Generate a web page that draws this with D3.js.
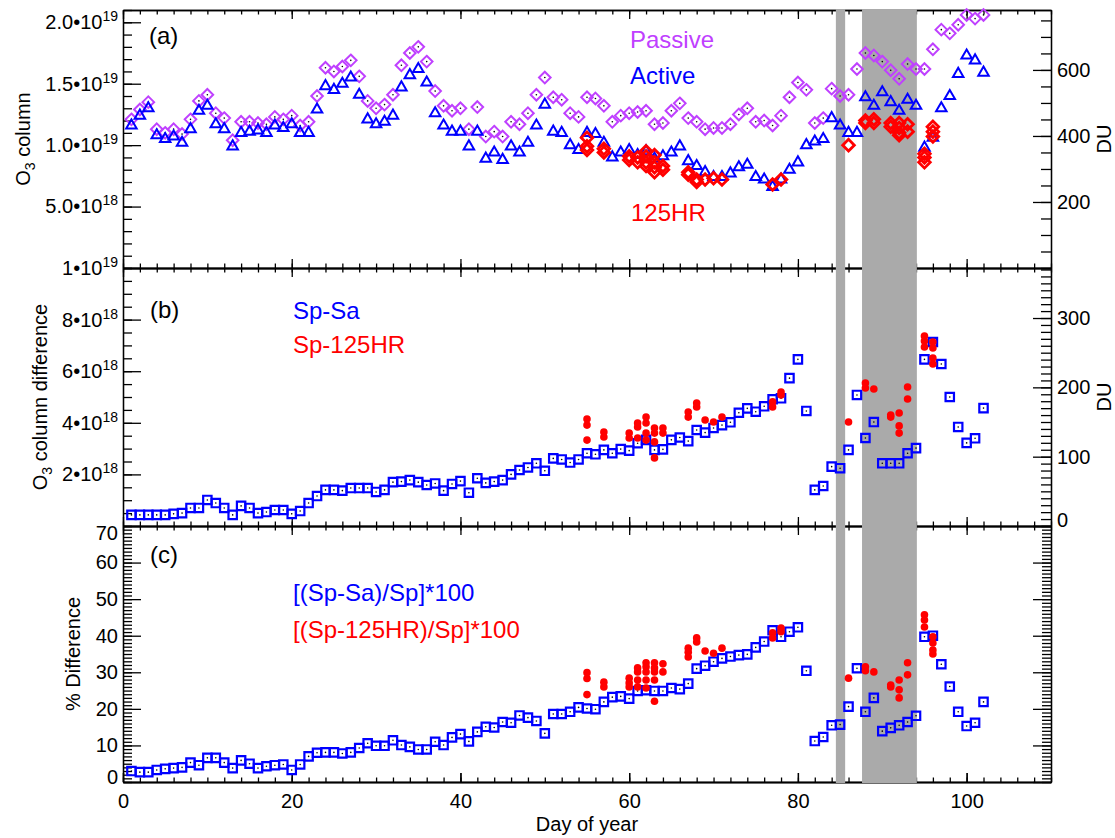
<!DOCTYPE html>
<html>
<head>
<meta charset="utf-8">
<script src="https://cdn.jsdelivr.net/npm/d3@7"></script>
<style>
  body { margin: 0; background: #fff; }
  text { font-family: "Liberation Sans", Arial, sans-serif; }
</style>
</head>
<body>
<svg id="chart" width="1115" height="838"></svg>
<script>
// ---- data ----
const firstDay = 1; // daily series start at day 1

// panel (a): O3 column, units of 1e19 molecules/cm2
const passive = [1.21, 1.29, 1.35, 1.13, 1.10, 1.13, 1.09, 1.21, 1.36, 1.41,
  1.26, 1.22, 1.04, 1.19, 1.19, 1.18, 1.17, 1.23, 1.21, 1.24,
  1.16, 1.19, 1.40, 1.63, 1.60, 1.64, 1.69, 1.56, 1.36, 1.30,
  1.33, 1.41, 1.65, 1.75, 1.80, 1.68, 1.44, 1.32, 1.28, 1.30,
  1.13, 1.31, 1.07, 1.11, 1.07, 1.19, 1.17, 1.26, 1.41, 1.55,
  1.39, 1.37, 1.26, 1.23, 1.39, 1.38, 1.32, 1.19, 1.24, 1.26,
  1.27, 1.28, 1.17, 1.18, 1.28, 1.34, 1.22, 1.19, 1.13, 1.14,
  1.14, 1.17, 1.25, 1.30, 1.19, 1.20, 1.16, 1.24, 1.39, 1.51,
  1.45, 1.18, 1.22, 1.46, 1.40, 1.41, 1.62, 1.75, 1.73, 1.68,
  1.61, 1.54, 1.66, 1.62, 1.62, 1.78, 1.94, 1.91, 1.98, 2.06,
  2.03, 2.06];
const active = [1.16, 1.24, 1.30, 1.08, 1.05, 1.07, 1.02, 1.13, 1.28, 1.32,
  1.17, 1.13, 0.99, 1.10, 1.11, 1.12, 1.10, 1.16, 1.14, 1.17,
  1.10, 1.10, 1.29, 1.48, 1.45, 1.50, 1.55, 1.41, 1.21, 1.17,
  1.19, 1.24, 1.47, 1.57, 1.62, 1.51, 1.26, 1.16, 1.11, 1.11,
  0.99, 1.11, 0.89, 0.94, 0.88, 0.99, 0.94, 1.02, 1.16, 1.33,
  1.11, 1.10, 1.00, 0.96, 1.10, 1.09, 1.02, 0.90, 0.94, 0.96,
  0.92, 0.95, 0.89, 0.91, 0.94, 0.99, 0.87, 0.83, 0.78, 0.74,
  0.74, 0.77, 0.82, 0.84, 0.74, 0.72, 0.66, 0.72, 0.80, 0.86,
  1.00, 1.03, 1.05, 1.22, 1.16, 1.10, 1.10, 1.39, 1.32, 1.43,
  1.35, 1.28, 1.37, 1.32, 0.98, 1.06, 1.30, 1.40, 1.58, 1.73,
  1.69, 1.59];
const hrDaysA = [55, 55, 55, 57, 57, 60, 60, 61, 61, 62, 62, 62, 62, 63, 63, 63, 63, 64, 64,
  67, 67, 68, 68, 69, 70, 71, 77, 78, 86, 88, 88, 89, 89, 91, 91, 92, 92, 92, 92, 93, 93,
  95, 95, 95, 96, 96, 96];
const hrValuesA = [1.06, 0.99, 0.96, 0.97, 0.94, 0.91, 0.88, 0.90, 0.86, 0.95, 0.91, 0.86, 0.83,
  0.92, 0.86, 0.82, 0.78, 0.83, 0.80, 0.78, 0.76, 0.72, 0.70, 0.72, 0.73, 0.72, 0.68, 0.72,
  1.00, 1.20, 1.18, 1.21, 1.18, 1.18, 1.15, 1.18, 1.14, 1.10, 1.08, 1.17, 1.11,
  0.93, 0.90, 0.86, 1.15, 1.11, 1.07];

// panel (b): O3 column difference, units of 1e18 molecules/cm2
const spSa = [0.43, 0.43, 0.43, 0.43, 0.43, 0.47, 0.50, 0.70, 0.70, 1.01,
  0.89, 0.70, 0.43, 0.78, 0.70, 0.50, 0.54, 0.62, 0.62, 0.47,
  0.58, 0.89, 1.16, 1.40, 1.40, 1.37, 1.47, 1.47, 1.47, 1.32,
  1.40, 1.70, 1.72, 1.78, 1.70, 1.59, 1.65, 1.37, 1.63, 1.74,
  1.29, 1.85, 1.67, 1.72, 1.78, 2.00, 2.17, 2.27, 2.43, 2.14,
  2.62, 2.58, 2.46, 2.58, 2.82, 2.78, 2.95, 2.82, 2.98, 2.92,
  3.21, 3.34, 2.95, 2.97, 3.34, 3.43, 3.29, 3.72, 3.62, 3.80,
  3.91, 4.02, 4.39, 4.56, 4.43, 4.64, 4.91, 4.95, 5.73, 6.46,
  4.46, 1.40, 1.55, 2.30, 2.24, 2.95, 5.08, 3.41, 4.03, 2.43,
  2.43, 2.43, 2.82, 3.02, 6.46, 7.13, 6.28, 5.00, 3.84, 3.22,
  3.40, 4.57];
const hrDaysB = [55, 55, 55, 57, 57, 60, 60, 61, 61, 61, 62, 62, 62, 62, 63, 63, 63, 63, 64, 64,
  67, 67, 68, 68, 69, 70, 71, 77, 77, 78, 78, 86, 88, 88, 89, 91, 91, 92, 92, 92, 93, 93,
  95, 95, 95, 96, 96, 96, 96];
const spHrB = [4.15, 3.91, 3.33, 3.64, 3.45, 3.60, 3.41, 3.99, 3.84, 3.41, 4.22, 3.99, 3.60, 3.33,
  3.80, 3.60, 3.26, 2.64, 3.80, 3.60, 4.42, 4.22, 4.77, 4.61, 4.11, 4.03, 4.22, 4.81, 4.61,
  5.19, 5.08, 4.03, 5.54, 5.35, 5.31, 4.30, 4.22, 4.38, 3.88, 3.60, 5.39, 4.92,
  7.36, 7.17, 6.94, 7.13, 6.90, 6.51, 6.28];

// panel (c): % difference
const pctSa = [3.0, 2.7, 2.7, 3.3, 3.6, 3.8, 4.0, 5.3, 4.6, 6.6,
  6.6, 5.3, 3.8, 5.9, 5.0, 3.8, 4.3, 4.6, 4.8, 3.3,
  4.8, 7.0, 8.0, 8.1, 8.1, 7.8, 8.1, 9.3, 10.6, 9.9,
  9.9, 11.4, 10.1, 9.6, 8.9, 8.9, 11.0, 10.1, 12.2, 13.1,
  11.1, 13.7, 15.1, 14.9, 16.4, 16.2, 18.2, 17.6, 16.7, 13.3,
  18.6, 18.6, 19.2, 20.4, 20.1, 19.9, 21.9, 23.2, 23.4, 22.8,
  24.9, 25.1, 24.9, 24.9, 25.7, 25.4, 26.9, 31.0, 31.8, 32.9,
  33.8, 34.3, 34.7, 34.9, 36.8, 38.4, 41.5, 39.7, 41.1, 42.3,
  30.4, 11.2, 12.3, 15.5, 15.7, 20.6, 31.1, 19.2, 23.0, 13.9,
  14.8, 15.5, 16.4, 18.1, 39.7, 40.0, 32.2, 26.1, 19.2, 15.3,
  16.2, 21.9];
const hrDaysC = [55, 55, 55, 57, 57, 60, 60, 60, 61, 61, 61, 61, 62, 62, 62, 62, 62,
  63, 63, 63, 63, 63, 64, 64, 67, 67, 67, 68, 68, 69, 70, 71, 77, 77, 78, 78, 86,
  88, 88, 89, 91, 91, 92, 92, 92, 93, 93, 95, 95, 95, 96, 96, 96, 96];
const pctHr = [29.9, 28.3, 23.9, 27.3, 26.0, 28.4, 27.1, 26.0, 31.2, 30.1, 27.9, 26.0,
  32.6, 31.5, 30.1, 27.9, 25.7, 32.6, 31.2, 30.1, 27.9, 22.1, 32.3, 30.1,
  36.6, 35.5, 34.2, 39.4, 38.3, 35.8, 35.2, 36.6, 40.8, 39.4, 42.1, 41.1, 28.4,
  31.5, 30.4, 30.1, 26.5, 26.0, 27.9, 25.2, 23.0, 32.6, 29.3,
  45.7, 44.3, 42.4, 39.7, 38.0, 36.1, 35.0];

// grey bands (days)
const shadeStart = [84.5, 87.6];
const shadeEnd = [85.6, 94.1];

// tick labels
const dayTicks = [0, 20, 40, 60, 80, 100];
const aTickVals = [0.5e19, 1.0e19, 1.5e19, 2.0e19];
const aTickMant = ["5.0", "1.0", "1.5", "2.0"];
const aTickExp = ["18", "19", "19", "19"];
const bTickVals = [2e18, 4e18, 6e18, 8e18, 1e19];
const bTickMant = ["2", "4", "6", "8", "1"];
const bTickExp = ["18", "18", "18", "18", "19"];
const cTickVals = [0, 10, 20, 30, 40, 50, 60, 70];
const duTicksA = [200, 400, 600];
const duTicksB = [0, 100, 200, 300];

// ---- setup ----
const DU = 2.687e16;
const purple = "#bf40ff";
const blue = "#0000ff";
const red = "#ff0000";
const font = '"Liberation Sans", Arial, sans-serif';

const svg = d3.select("#chart");
const left = 123, right = 1051;
const x = d3.scaleLinear().domain([0, 110]).range([left, right]);

const yA = d3.scaleLinear().domain([0, 2.1e19]).range([268, 10]);
const yAdu = d3.scaleLinear().domain([0, 2.1e19 / DU]).range([268, 10]);
const yB = d3.scaleLinear().domain([0, 1e19]).range([526, 268]);
const yBdu = d3.scaleLinear().domain([0, 1e19 / DU]).range([526, 268]);
const yC = d3.scaleLinear().domain([0, 70]).range([782, 526]);

const dayMinor = d3.range(0, 111, 2);

function styleAxis(g) {
  g.attr("font-family", font).attr("font-size", 20);
  g.selectAll("path, line").attr("stroke", "#000").attr("stroke-width", 1.3);
  g.selectAll("text").attr("fill", "#000");
}

// x axes: ticks pointing into each panel
function xAxis(yPos, down, labels) {
  const mk = down ? d3.axisBottom : d3.axisTop;
  svg.append("g").attr("transform", `translate(0,${yPos})`)
    .call(mk(x).tickValues(dayMinor).tickSize(4.5).tickSizeOuter(0).tickFormat(""))
    .call(styleAxis);
  svg.append("g").attr("transform", `translate(0,${yPos})`)
    .call(mk(x).tickValues(dayTicks).tickSize(9).tickSizeOuter(0).tickFormat(""))
    .call(styleAxis);
  if (labels) {
    svg.append("g").attr("transform", `translate(0,${yPos})`)
      .call(d3.axisBottom(x).tickValues(dayTicks).tickSize(-9).tickSizeOuter(0).tickPadding(12))
      .call(styleAxis);
  }
}
xAxis(10, true);
xAxis(268, false);
xAxis(268, true);
xAxis(526, false);
xAxis(526, true);
xAxis(782, false, true);

// y axes: ticks pointing inward
function yAxis(side, scale, minors, majors, fmt, majorLen, minorLen) {
  const mk = side === "left" ? d3.axisLeft : d3.axisRight;
  const x0 = side === "left" ? left : right;
  svg.append("g").attr("transform", `translate(${x0},0)`)
    .call(mk(scale).tickValues(minors).tickSize(-minorLen).tickSizeOuter(0).tickFormat(""))
    .call(styleAxis);
  return svg.append("g").attr("transform", `translate(${x0},0)`)
    .call(mk(scale).tickValues(majors).tickSize(-majorLen).tickSizeOuter(0)
      .tickPadding(side === "left" ? 5 : 6).tickFormat(fmt))
    .call(styleAxis);
}

function powLabels(g, mant, exp) {
  g.selectAll(".tick text").each(function (d, i) {
    const t = d3.select(this).text(null);
    t.append("tspan").text(mant[i] + "\u202210");
    t.append("tspan").attr("dy", -8).attr("font-size", 14).text(exp[i]);
  });
}

// panel a
const gA = yAxis("left", yA, d3.range(0, 22).map(k => k * 1e18), aTickVals, () => "", 18, 9);
powLabels(gA, aTickMant, aTickExp);
yAxis("right", yAdu, d3.range(0, 800, 50), duTicksA, d => d, 18, 10);

// panel b
const gB = yAxis("left", yB, d3.range(0, 21).map(k => k * 5e17), bTickVals, () => "", 18, 9);
powLabels(gB, bTickMant, bTickExp);
const gBr = yAxis("right", yBdu, d3.range(0, 373, 10), duTicksB, d => d, 18, 10);
gBr.selectAll(".tick text").filter(d => d === 0).attr("y", -6);

// panel c
const gC = yAxis("left", yC, d3.range(0, 71, 1), cTickVals, d => d, 18, 9);
gC.selectAll(".tick text").filter(d => d === 70).attr("y", 7);
gC.selectAll(".tick text").filter(d => d === 0).attr("y", -5);
yAxis("right", yC, d3.range(0, 71, 1), cTickVals, () => "", 18, 9);

// grey bands
svg.append("g").selectAll("rect")
  .data(shadeStart)
  .join("rect")
  .attr("x", (d) => x(d))
  .attr("width", (d, i) => x(shadeEnd[i]) - x(d))
  .attr("y", yA.range()[1] - 1)
  .attr("height", yC.range()[0] - yA.range()[1] + 2)
  .attr("fill", "#aaaaaa");

// ---- markers ----
const diamond = (r) => `M0,${-r}L${r},0L0,${r}L${-r},0Z`;
const triangle = (w) => `M0,${-w * 0.577}L${w / 2},${w * 0.289}L${-w / 2},${w * 0.289}Z`;
const square = (s) => `M${-s / 2},${-s / 2}H${s / 2}V${s / 2}H${-s / 2}Z`;

function markers(values, xs, yScale, scaleBy, path, color, width) {
  return svg.append("g").selectAll("path")
    .data(values)
    .join("path")
    .attr("transform", (v, i) => `translate(${x(xs(i))},${yScale(v * scaleBy)})`)
    .attr("d", path)
    .attr("fill", "none")
    .attr("stroke", color)
    .attr("stroke-width", width);
}
function centerDots(values, yScale, scaleBy) {
  svg.append("g").selectAll("circle")
    .data(values)
    .join("circle")
    .attr("cx", (v, i) => x(firstDay + i))
    .attr("cy", (v) => yScale(v * scaleBy))
    .attr("r", 0.8)
    .attr("fill", "#000");
}
const daily = (i) => firstDay + i;

// panel a
markers(passive, daily, yA, 1e19, diamond(5.8), purple, 2);
centerDots(passive, yA, 1e19);
markers(active, daily, yA, 1e19, triangle(10.5), blue, 2);
markers(hrValuesA, (i) => hrDaysA[i], yA, 1e19, diamond(5.8), red, 2.8);

// panel b
markers(spSa, daily, yB, 1e18, square(8.4), blue, 2.2);
centerDots(spSa, yB, 1e18);
svg.append("g").selectAll("circle")
  .data(spHrB)
  .join("circle")
  .attr("cx", (v, i) => x(hrDaysB[i]))
  .attr("cy", (v) => yB(v * 1e18))
  .attr("r", 3.8)
  .attr("fill", red);

// panel c
markers(pctSa, daily, yC, 1, square(8.4), blue, 2.2);
centerDots(pctSa, yC, 1);
svg.append("g").selectAll("circle")
  .data(pctHr)
  .join("circle")
  .attr("cx", (v, i) => x(hrDaysC[i]))
  .attr("cy", (v) => yC(v))
  .attr("r", 3.8)
  .attr("fill", red);

// ---- text ----
function label(txt, xp, yp, color, size) {
  return svg.append("text")
    .attr("x", xp).attr("y", yp)
    .attr("fill", color).attr("font-size", size)
    .attr("font-family", font)
    .text(txt);
}
label("(a)", 149, 44, "#000", 24);
label("(b)", 150, 318, "#000", 24);
label("(c)", 150, 563, "#000", 24);
label("Passive", 630, 48, purple, 24);
label("Active", 630, 84, blue, 24);
label("125HR", 631, 221, red, 24);
label("Sp-Sa", 293, 319, blue, 24);
label("Sp-125HR", 293, 353, red, 24);
label("[(Sp-Sa)/Sp]*100", 293, 601, blue, 24);
label("[(Sp-125HR)/Sp]*100", 293, 638, red, 24);

// axis titles
function vTitle(xp, yp, parts) {
  const t = svg.append("text")
    .attr("transform", `translate(${xp},${yp}) rotate(-90)`)
    .attr("text-anchor", "middle")
    .attr("font-size", 20)
    .attr("font-family", font)
    .attr("fill", "#000");
  parts.forEach(([s, dy, size]) => {
    const ts = t.append("tspan").text(s);
    if (dy) ts.attr("dy", dy);
    if (size) ts.attr("font-size", size);
  });
}
vTitle(30, 139, [["O"], ["3", 5, 14], [" column", -5]]);
vTitle(47, 397, [["O"], ["3", 5, 14], [" column difference", -5]]);
vTitle(80, 654, [["% Difference"]]);
vTitle(1111, 139, [["DU"]]);
vTitle(1111, 397, [["DU"]]);

svg.append("text")
  .attr("x", (left + right) / 2).attr("y", 831)
  .attr("text-anchor", "middle")
  .attr("font-size", 20)
  .attr("font-family", font)
  .text("Day of year");
</script>
</body>
</html>
